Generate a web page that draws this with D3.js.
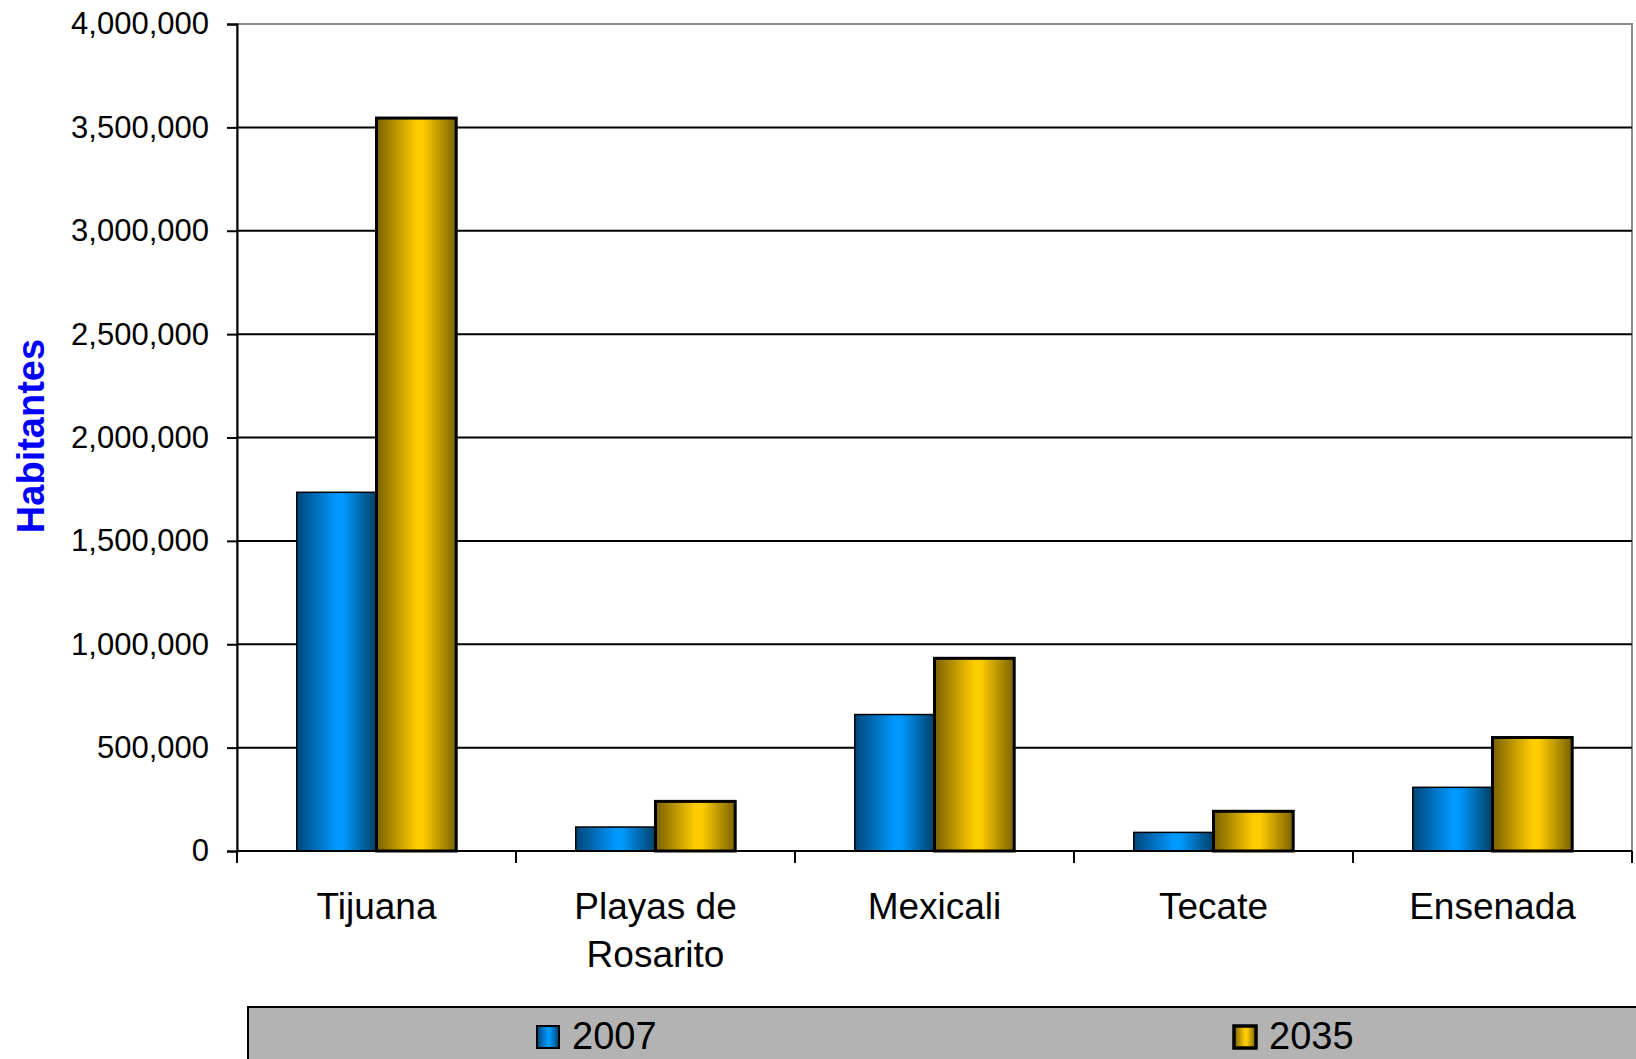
<!DOCTYPE html>
<html>
<head>
<meta charset="utf-8">
<script src="https://cdn.jsdelivr.net/npm/d3@7"></script>
<style>
  html, body { margin: 0; padding: 0; background: #fff; }
  svg { display: block; font-family: "Liberation Sans", Arial, sans-serif; }
</style>
</head>
<body>
<svg id="chart" width="1636" height="1059"></svg>
<script>
// ---- data ----
const categories = ["Tijuana", "Playas de|Rosarito", "Mexicali", "Tecate", "Ensenada"];
const seriesNames = ["2007", "2035"];
const values2007 = [1735000, 116000, 660000, 90000, 308000];
const values2035 = [3545000, 240000, 932000, 192000, 549000];
const yTicks = [0, 500000, 1000000, 1500000, 2000000, 2500000, 3000000, 3500000, 4000000];
const yTitle = "Habitantes";

(function () {
const seriesValues = [values2007, values2035];

const svg = d3.select("#chart");
const pL = 237, pR = 1632, pT = 24, pB = 851;

// gradients
const defs = svg.append("defs");
function grad(id, edgeL, mid, edgeR) {
  const g = defs.append("linearGradient").attr("id", id)
    .attr("x1", "0%").attr("x2", "100%").attr("y1", "0%").attr("y2", "0%");
  g.append("stop").attr("offset", "0%").attr("stop-color", edgeL);
  g.append("stop").attr("offset", "50%").attr("stop-color", mid);
  g.append("stop").attr("offset", "58%").attr("stop-color", mid);
  g.append("stop").attr("offset", "100%").attr("stop-color", edgeR);
}
grad("gBlue", "#00467a", "#0099ff", "#003f66");
grad("gGold", "#7a6000", "#ffcc00", "#7a6200");
const fills = ["url(#gBlue)", "url(#gGold)"];
const strokeW = [1.5, 3];

const y = d3.scaleLinear().domain([0, 4000000]).range([pB, pT]);
const x0 = d3.scaleBand().domain(categories).range([pL, pR]).paddingInner(0).paddingOuter(0);
const x1 = d3.scaleBand().domain(seriesNames).range([0, x0.bandwidth()]).paddingInner(0).paddingOuter(0.75);

// plot border (gray)
svg.append("rect").attr("x", pL).attr("y", pT).attr("width", pR - pL).attr("height", pB - pT)
  .attr("fill", "#fff").attr("stroke", "#8c8c8c").attr("stroke-width", 2);

// gridlines
svg.append("g").selectAll("line").data(yTicks.filter(d => d > 0 && d < 4000000)).join("line")
  .attr("x1", pL).attr("x2", pR)
  .attr("y1", d => y(d)).attr("y2", d => y(d))
  .attr("stroke", "#000").attr("stroke-width", 2);

// bars
const groups = svg.append("g").selectAll("g").data(categories).join("g")
  .attr("transform", d => `translate(${x0(d)},0)`);
groups.selectAll("rect").data((d, i) => seriesNames.map((s, j) => ({ s, j, v: seriesValues[j][i] })))
  .join("rect")
  .attr("x", d => x1(d.s))
  .attr("width", x1.bandwidth())
  .attr("y", d => y(d.v))
  .attr("height", d => y(0) - y(d.v))
  .attr("fill", d => fills[d.j])
  .attr("stroke", "#000")
  .attr("stroke-width", d => strokeW[d.j]);

// y axis
const yAxis = d3.axisLeft(y).tickValues(yTicks).tickSize(10).tickPadding(18)
  .tickFormat(d3.format(","));
const ya = svg.append("g").attr("transform", `translate(${pL},0)`).call(yAxis);
ya.select(".domain").attr("stroke", "#000").attr("stroke-width", 2);
ya.selectAll(".tick line").attr("stroke", "#000").attr("stroke-width", 2);
ya.selectAll(".tick text").attr("font-size", 31).attr("fill", "#000")
  .attr("font-family", "Liberation Sans, Arial, sans-serif");

// x axis
svg.append("line").attr("x1", pL).attr("x2", pR).attr("y1", pB).attr("y2", pB)
  .attr("stroke", "#000").attr("stroke-width", 2);
const bounds = categories.map(c => x0(c)).concat([pR]);
svg.append("g").selectAll("line").data(bounds).join("line")
  .attr("x1", d => d).attr("x2", d => d).attr("y1", pB).attr("y2", pB + 12)
  .attr("stroke", "#000").attr("stroke-width", 2);

const labels = svg.append("g").selectAll("text").data(categories).join("text")
  .attr("text-anchor", "middle").attr("font-size", 37).attr("fill", "#000")
  .attr("x", d => x0(d) + x0.bandwidth() / 2).attr("y", 919);
labels.each(function(d) {
  const parts = d.split("|");
  const t = d3.select(this);
  parts.forEach((p, i) => {
    t.append("tspan").attr("x", x0(d) + x0.bandwidth() / 2).attr("dy", i === 0 ? 0 : 48).text(p);
  });
});

// y title
svg.append("text").attr("transform", "translate(44,436) rotate(-90)")
  .attr("text-anchor", "middle").attr("font-size", 38).attr("font-weight", "bold")
  .attr("fill", "#0000ff").text(yTitle);

// legend
svg.append("rect").attr("x", 248).attr("y", 1007).attr("width", 1400).attr("height", 70)
  .attr("fill", "#b3b3b3").attr("stroke", "#000").attr("stroke-width", 2);
const legendX = [537, 1234];
const lg = svg.append("g").selectAll("g").data(seriesNames).join("g")
  .attr("transform", (d, i) => `translate(${legendX[i]},1026)`);
lg.append("rect").attr("width", 22).attr("height", 22)
  .attr("fill", (d, i) => fills[i]).attr("stroke", "#000").attr("stroke-width", (d, i) => strokeW[i] + 0.5);
lg.append("text").attr("x", 35).attr("y", 23).attr("font-size", 38).attr("fill", "#000").text(d => d);
})();
</script>
</body>
</html>
